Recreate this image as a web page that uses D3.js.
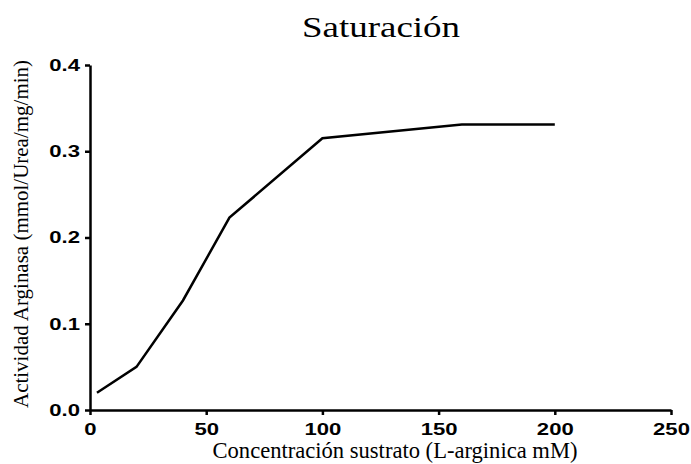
<!DOCTYPE html>
<html>
<head>
<meta charset="utf-8">
<script src="https://cdn.jsdelivr.net/npm/d3@7"></script>
<style>
  html, body { margin: 0; padding: 0; background: #fff; }
  svg { display: block; }
</style>
</head>
<body>
<svg id="chart" width="691" height="464"></svg>
<script>
// Substrate concentration (mM) and measured arginase activity
const concentration = [3, 20, 40, 60, 100, 160, 180, 200];
const activity = [0.020, 0.050, 0.127, 0.223, 0.315, 0.331, 0.331, 0.331];
const xTicks = [0, 50, 100, 150, 200, 250];
const yTicks = [0.0, 0.1, 0.2, 0.3, 0.4];

const svg = d3.select("#chart");
const x = d3.scaleLinear().domain([0, 250]).range([90, 671]);
const y = d3.scaleLinear().domain([0, 0.4]).range([410, 65]);

const xAxis = svg.append("g")
  .attr("transform", `translate(0,${y(0)})`)
  .call(d3.axisBottom(x).tickValues(xTicks).tickFormat(d3.format("d")).tickSize(5).tickSizeOuter(0).tickPadding(8));

const yAxis = svg.append("g")
  .attr("transform", `translate(${x(0)},0)`)
  .call(d3.axisLeft(y).tickValues(yTicks).tickFormat(d3.format(".1f")).tickSize(5).tickSizeOuter(0).tickPadding(5));

[xAxis, yAxis].forEach(g => {
  g.select(".domain").attr("stroke", "#000").attr("stroke-width", 2.5);
  g.selectAll(".tick line").attr("stroke", "#000").attr("stroke-width", 2.5);
  g.selectAll(".tick text")
    .attr("fill", "#000")
    .style("font-family", "'Liberation Sans', Arial, sans-serif")
    .style("font-weight", "bold")
    .style("font-size", "17px")
    .each(function () {
      // wide, heavy tick numerals
      const w = this.getComputedTextLength();
      d3.select(this).attr("textLength", w * 1.3).attr("lengthAdjust", "spacingAndGlyphs");
    });
});

const line = d3.line().x(d => x(d[0])).y(d => y(d[1]));
svg.append("path")
  .datum(concentration.map((c, i) => [c, activity[i]]))
  .attr("fill", "none")
  .attr("stroke", "#000")
  .attr("stroke-width", 2.5)
  .attr("stroke-linejoin", "miter")
  .attr("d", line);

const serif = "'Liberation Serif', 'Times New Roman', serif";

svg.append("text")
  .attr("x", 381).attr("y", 37)
  .attr("text-anchor", "middle")
  .attr("textLength", 158)
  .attr("lengthAdjust", "spacingAndGlyphs")
  .style("font-family", serif)
  .style("font-size", "30px")
  .text("Saturación");

svg.append("text")
  .attr("x", 395).attr("y", 458)
  .attr("text-anchor", "middle")
  .attr("textLength", 365)
  .attr("lengthAdjust", "spacingAndGlyphs")
  .style("font-family", serif)
  .style("font-size", "23px")
  .text("Concentración sustrato (L-arginica mM)");

svg.append("text")
  .attr("transform", "translate(28,234) rotate(-90)")
  .attr("text-anchor", "middle")
  .attr("textLength", 348)
  .attr("lengthAdjust", "spacingAndGlyphs")
  .style("font-family", serif)
  .style("font-size", "22px")
  .text("Actividad Arginasa (mmol/Urea/mg/min)");
</script>
</body>
</html>
